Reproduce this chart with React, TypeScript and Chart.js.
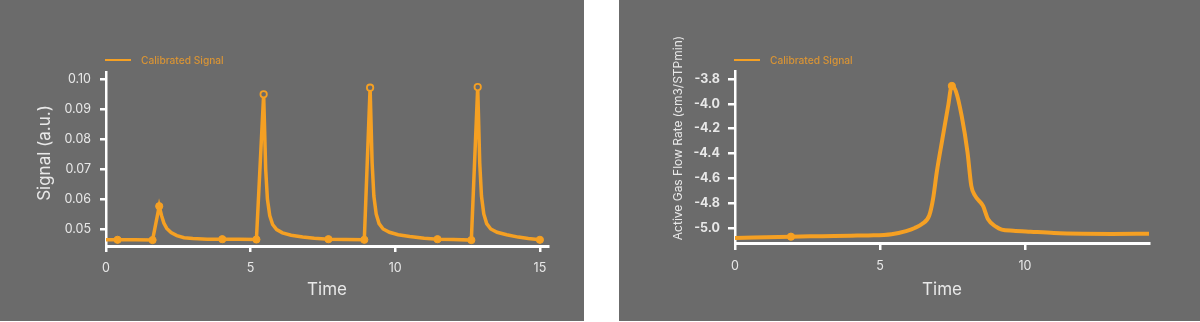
import React, { useEffect, useRef } from 'react';
import { Chart, registerables } from 'chart.js';

Chart.register(...registerables);

// ---------- data ----------
const seriesLabel = 'Calibrated Signal';
const xAxisLabel = 'Time';
const leftYAxisLabel = 'Signal (a.u.)';
const rightYAxisLabel = 'Active Gas Flow Rate (cm3/STPmin)';

const leftTime = [
  0.0, 0.4, 1.0, 1.61, 1.84, 1.92, 2.0, 2.1, 2.25, 2.45, 2.7, 3.0, 3.5, 4.02, 4.6,
  5.2, 5.45, 5.52, 5.58, 5.66, 5.76, 5.9, 6.1, 6.4, 6.8, 7.2, 7.69, 8.3,
  8.93, 9.13, 9.2, 9.26, 9.34, 9.44, 9.58, 9.8, 10.1, 10.5, 11.0, 11.46, 12.0,
  12.63, 12.85, 12.92, 12.98, 13.06, 13.16, 13.3, 13.52, 13.85, 14.25, 14.6, 15.0,
];
const leftSignal = [
  0.0464, 0.0464, 0.0464, 0.0463, 0.0576, 0.0545, 0.052, 0.0502, 0.0488, 0.0478, 0.0471, 0.0468, 0.0466, 0.0466, 0.0466,
  0.0465, 0.0949, 0.07, 0.06, 0.0545, 0.0515, 0.0498, 0.0487, 0.0479, 0.0473, 0.0469, 0.0466, 0.0465,
  0.0464, 0.0971, 0.072, 0.061, 0.055, 0.0518, 0.05, 0.0489, 0.0481, 0.0475, 0.0469, 0.0466, 0.0465,
  0.0463, 0.0973, 0.072, 0.061, 0.055, 0.0518, 0.05, 0.0489, 0.0481, 0.0473, 0.0468, 0.0464,
];
const leftMarkerTimes = [0.4, 1.61, 1.84, 4.02, 5.2, 7.69, 8.93, 11.46, 12.63, 15.0];
const leftPeakTimes = [5.45, 9.13, 12.85];
const leftYTicks = [0.05, 0.06, 0.07, 0.08, 0.09, 0.1];
const leftXTicks = [0, 5, 10, 15];

const rightTime = [
  0.0, 1.93, 3.0, 4.0, 4.6, 5.4, 5.9, 6.2, 6.45, 6.7, 6.83, 6.96, 7.15, 7.35, 7.48,
  7.62, 7.82, 8.02, 8.15, 8.28, 8.55, 8.73, 9.0, 9.2, 9.6, 10.2, 11.0, 12.0, 13.0, 14.28,
];
const rightFlow = [
  -5.08, -5.07, -5.066, -5.062, -5.06, -5.05, -5.025, -5.0, -4.968, -4.9, -4.768, -4.55, -4.288, -4.02, -3.856,
  -3.9, -4.1, -4.39, -4.66, -4.74, -4.82, -4.93, -4.99, -5.013, -5.022, -5.03, -5.04, -5.046, -5.048, -5.047,
];
const rightMarkerTimes = [1.93, 7.48];
const rightYTicks = [-5.0, -4.8, -4.6, -4.4, -4.2, -4.0, -3.8];
const rightXTicks = [0, 5, 10];

// ---------- styles ----------
const PANEL_BG = '#6b6b6b';
const LINE = '#f5a023';
const LEGEND_TEXT = '#d99435';
const TEXT = '#e8e8e8';
const FONT = 'Inter, "Noto Sans", sans-serif';

const legendPlugin = {
  id: 'customLegend',
  afterDraw(chart: any, _args: any, opts: any) {
    const { ctx, chartArea } = chart;
    const x0 = chartArea.left + opts.dx;
    ctx.save();
    ctx.strokeStyle = LINE;
    ctx.lineWidth = 2;
    ctx.beginPath();
    ctx.moveTo(x0, opts.y);
    ctx.lineTo(x0 + 26, opts.y);
    ctx.stroke();
    ctx.font = `500 10.2px ${FONT}`;
    ctx.fillStyle = LEGEND_TEXT;
    ctx.textBaseline = 'middle';
    ctx.textAlign = 'left';
    ctx.fillText(chart.data.datasets[0].label, x0 + 36, opts.y + 0.5);
    ctx.restore();
  },
};

const yTitlePlugin = {
  id: 'yTitle',
  afterDraw(chart: any, _args: any, opts: any) {
    const { ctx } = chart;
    ctx.save();
    ctx.translate(opts.x, opts.y);
    ctx.rotate(-Math.PI / 2);
    ctx.font = opts.font;
    ctx.fillStyle = TEXT;
    ctx.textAlign = 'center';
    ctx.textBaseline = 'middle';
    ctx.fillText(opts.text, 0, 0);
    ctx.restore();
  },
};

type PanelCfg = {
  width: number;
  height: number;
  xs: number[];
  ys: number[];
  markers: number[];
  peaks: number[];
  monotone: boolean;
  lineWidth: number;
  xMax: number;
  yMin: number;
  yMax: number;
  yTicks: number[];
  xTicks: number[];
  decimals: number;
  yBold: boolean;
  area: { left: number; right: number; top: number; bottom: number };
  yTitle: { text: string; x: number; y: number; font: string };
  tickLen: number;
  yPad: number;
};

function Panel({ cfg }: { cfg: PanelCfg }) {
  const ref = useRef<HTMLCanvasElement | null>(null);
  useEffect(() => {
    if (!ref.current) return;
    const data = cfg.xs.map((x, i) => ({ x, y: cfg.ys[i] }));
    const isMarker = (i: number) => cfg.markers.includes(cfg.xs[i]);
    const isPeak = (i: number) => cfg.peaks.includes(cfg.xs[i]);
    const chart = new Chart(ref.current, {
      type: 'line',
      data: {
        datasets: [
          {
            label: seriesLabel,
            data,
            borderColor: LINE,
            backgroundColor: LINE,
            borderWidth: cfg.lineWidth,
            borderJoinStyle: 'miter',
            tension: cfg.monotone ? 0.4 : 0,
            cubicInterpolationMode: cfg.monotone ? 'monotone' : 'default',
            pointRadius: (c: any) => (isPeak(c.dataIndex) ? 3.2 : isMarker(c.dataIndex) ? 3.6 : 0),
            pointBorderWidth: (c: any) => (isPeak(c.dataIndex) ? 1.8 : 1),
            pointBackgroundColor: (c: any) => (isPeak(c.dataIndex) ? PANEL_BG : LINE),
            pointBorderColor: LINE,
            pointHoverRadius: 0,
          } as any,
        ],
      },
      options: {
        responsive: false,
        animation: false,
        layout: {
          padding: {
            left: 0,
            top: cfg.area.top,
            right: cfg.width - cfg.area.right,
            bottom: 0,
          },
        },
        plugins: {
          legend: { display: false },
          tooltip: { enabled: false },
          customLegend: { dx: -1, y: 60 },
          yTitle: cfg.yTitle,
        } as any,
        scales: {
          x: {
            type: 'linear',
            min: 0,
            max: cfg.xMax,
            afterBuildTicks: (s: any) => {
              s.ticks = cfg.xTicks.map((v) => ({ value: v }));
            },
            afterFit: (s: any) => {
              s.height = cfg.height - cfg.area.bottom;
            },
            ticks: {
              color: TEXT,
              font: { family: FONT, size: 12.5 },
              padding: 9,
              maxRotation: 0,
              autoSkip: false,
              callback: (v: any) => String(v),
            },
            grid: {
              display: true,
              drawOnChartArea: false,
              drawTicks: true,
              tickLength: cfg.tickLen,
              color: '#ffffff',
              lineWidth: 2.5,
            },
            border: { display: true, color: '#ffffff', width: 3 },
            title: {
              display: true,
              text: xAxisLabel,
              color: TEXT,
              font: { family: FONT, size: 17 },
              padding: { top: 0, bottom: 21 },
            },
          },
          y: {
            type: 'linear',
            min: cfg.yMin,
            max: cfg.yMax,
            afterBuildTicks: (s: any) => {
              s.ticks = cfg.yTicks.map((v) => ({ value: v }));
            },
            afterFit: (s: any) => {
              s.width = cfg.area.left;
            },
            ticks: {
              color: TEXT,
              font: { family: FONT, size: 12.5, weight: cfg.yBold ? 'bold' : 'normal' },
              padding: cfg.yPad,
              autoSkip: false,
              callback: (v: any) => Number(v).toFixed(cfg.decimals),
            },
            grid: {
              display: true,
              drawOnChartArea: false,
              drawTicks: true,
              tickLength: cfg.tickLen,
              color: '#ffffff',
              lineWidth: 2.5,
            },
            border: { display: true, color: '#ffffff', width: 2.5 },
          },
        },
      } as any,
      plugins: [legendPlugin, yTitlePlugin],
    });
    return () => chart.destroy();
  }, [cfg]);
  return <canvas ref={ref} width={cfg.width} height={cfg.height} style={{ display: 'block' }} />;
}

const leftCfg: PanelCfg = {
  width: 584,
  height: 321,
  xs: leftTime,
  ys: leftSignal,
  markers: leftMarkerTimes,
  peaks: leftPeakTimes,
  monotone: false,
  lineWidth: 3.5,
  xMax: 15.28,
  yMin: 0.04433,
  yMax: 0.10233,
  yTicks: leftYTicks,
  xTicks: leftXTicks,
  decimals: 2,
  yBold: false,
  area: { left: 106, right: 548, top: 72, bottom: 246 },
  yTitle: { text: leftYAxisLabel, x: 45, y: 153, font: `17px ${FONT}` },
  tickLen: 6,
  yPad: 9,
};

const rightCfg: PanelCfg = {
  width: 581,
  height: 321,
  xs: rightTime,
  ys: rightFlow,
  markers: rightMarkerTimes,
  peaks: [],
  monotone: true,
  lineWidth: 4,
  xMax: 14.28,
  yMin: -5.121,
  yMax: -3.736,
  yTicks: rightYTicks,
  xTicks: rightXTicks,
  decimals: 1,
  yBold: true,
  area: { left: 116, right: 530, top: 71, bottom: 243 },
  yTitle: { text: rightYAxisLabel, x: 59, y: 138, font: `12px ${FONT}` },
  tickLen: 7,
  yPad: 8,
};

export default function App() {
  useEffect(() => {
    document.body.style.margin = '0';
  }, []);
  return (
    <div style={{ position: 'absolute', left: 0, top: 0, width: 1200, height: 322, background: '#ffffff' }}>
      <div style={{ position: 'absolute', left: 0, top: 0, width: 584, height: 321, background: PANEL_BG }}>
        <Panel cfg={leftCfg} />
      </div>
      <div style={{ position: 'absolute', left: 619, top: 0, width: 581, height: 321, background: PANEL_BG }}>
        <Panel cfg={rightCfg} />
      </div>
    </div>
  );
}
